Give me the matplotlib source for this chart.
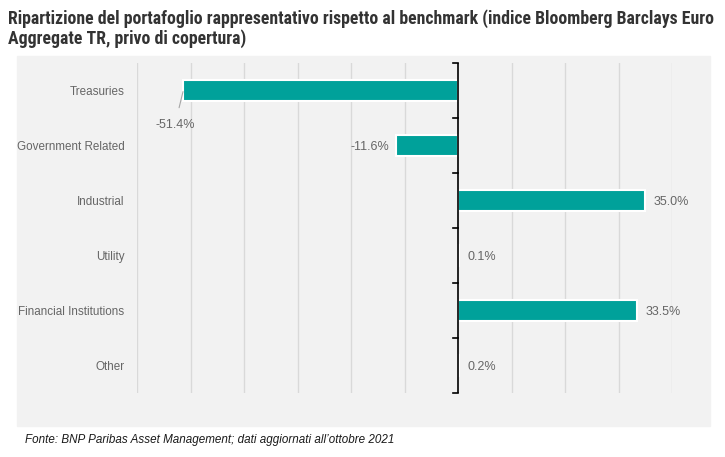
import matplotlib.pyplot as plt
from matplotlib.patches import Rectangle
from matplotlib import font_manager

categories = ["Treasuries", "Government Related", "Industrial", "Utility",
              "Financial Institutions", "Other"]
values = [-51.4, -11.6, 35.0, 0.1, 33.5, 0.2]
grid_ticks = [-60, -50, -40, -30, -20, -10, 10, 20, 30, 40]

title_lines = ["Ripartizione del portafoglio rappresentativo rispetto al benchmark (indice Bloomberg Barclays Euro",
               "Aggregate TR, privo di copertura)"]
source = "Fonte: BNP Paribas Asset Management; dati aggiornati all\u2019ottobre 2021"

names = {f.name for f in font_manager.fontManager.ttflist}
narrow = "Liberation Sans"
for cand in ["Liberation Sans Narrow", "Roboto Condensed", "Open Sans Condensed"]:
    if cand in names:
        narrow = cand
        break
plt.rcParams["font.family"] = ["Liberation Sans", "DejaVu Sans"]

teal = "#00A19A"
label_grey = "#666666"

fig = plt.figure(figsize=(7.25, 4.57), dpi=100)
fig.patches.append(Rectangle((17 / 725, 31 / 457), 693 / 725, 370 / 457,
                             transform=fig.transFigure, color="#F2F2F2", zorder=-10))

ax = fig.add_axes([137 / 725, 64 / 457, 535 / 725, 330 / 457])
ax.set_facecolor("none")
ax.set_xlim(-60, 40)
ax.set_ylim(len(categories) - 0.5, -0.5)

for g in grid_ticks:
    ax.axvline(g, color="#D9D9D9", lw=1, zorder=1)

ypos = list(range(len(categories)))
ax.barh(ypos, values, height=0.38, color=teal, edgecolor="white", linewidth=1.5, zorder=2)

# zero axis with ticks between categories
ax.axvline(0, color="black", lw=1.2, zorder=3)
for b in [i - 0.5 for i in range(len(categories) + 1)]:
    ax.plot([-1.0, 0], [b, b], color="black", lw=1.2, zorder=3, clip_on=False)

for y, v in zip(ypos, values):
    txt = f"{v:.1f}%"
    if y == 0:
        ax.annotate(txt, xy=(v, y + 0.02), xytext=(v - 1.5, y + 0.62),
                    ha="center", va="center", fontsize=9, color=label_grey,
                    arrowprops=dict(arrowstyle="-", color="#A6A6A6", lw=0.8,
                                    shrinkA=6, shrinkB=0))
    elif v < 0:
        ax.text(v - 1.3, y + 0.02, txt, ha="right", va="center", fontsize=9, color=label_grey)
    else:
        ax.text(v + 1.6, y + 0.02, txt, ha="left", va="center", fontsize=9, color=label_grey)

ax.set_yticks(ypos)
ax.set_yticklabels(categories, fontsize=8.4, color=label_grey)
ax.tick_params(axis="y", length=0, pad=9)
ax.set_xticks([])
for s in ax.spines.values():
    s.set_visible(False)

# title: shrink the font until the first line fits the reference width
renderer = fig.canvas.get_renderer()
size = 15
while size > 7:
    probe = fig.text(0, 0, title_lines[0], fontsize=size, fontweight="bold",
                     family=[narrow, "DejaVu Sans"])
    w = probe.get_window_extent(renderer).width
    probe.remove()
    if w <= 709:
        break
    size -= 0.1
fig.text(8 / 725, 1 - 24 / 457, title_lines[0], ha="left", va="baseline", fontsize=size,
         fontweight="bold", color="#333333", family=[narrow, "DejaVu Sans"])
fig.text(8 / 725, 1 - 44 / 457, title_lines[1], ha="left", va="baseline", fontsize=size,
         fontweight="bold", color="#333333", family=[narrow, "DejaVu Sans"])
fig.text(25 / 725, 1 - 440 / 457, source, ha="left", va="center", fontsize=8.4,
         style="italic", color="#1a1a1a")

fig.savefig("out.png", dpi=100)
